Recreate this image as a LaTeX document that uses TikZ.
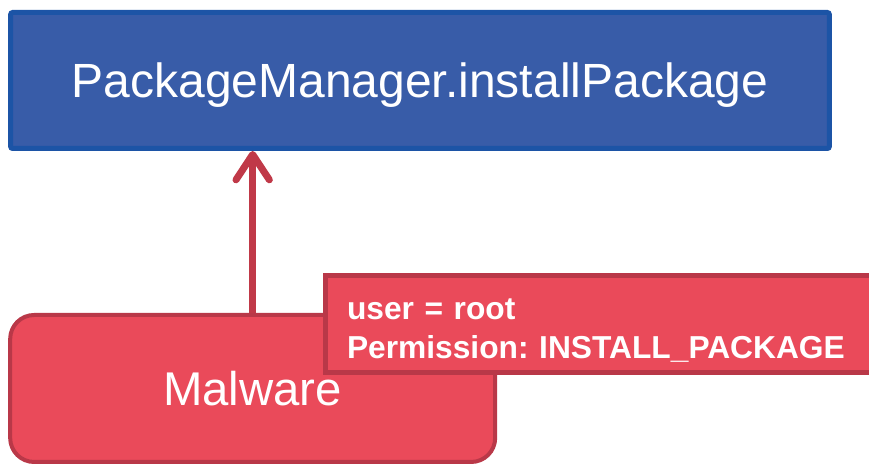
\documentclass[tikz,border=0pt]{standalone}
\usepackage{fontspec}
\setmainfont{Liberation Sans}
\usepackage{tikz}
\usetikzlibrary{arrows.meta,positioning}
\definecolor{apiFill}{RGB}{56,92,168}
\definecolor{apiLine}{RGB}{28,84,166}
\definecolor{malFill}{RGB}{234,74,90}
\definecolor{malLine}{RGB}{185,56,72}
\definecolor{callArr}{RGB}{192,57,72}
\tikzset{
  apibox/.style={draw=apiLine,fill=apiFill,line width=3.75pt,rounded corners=1.5pt,
    minimum width=614pt,minimum height=102pt,text=white,
    font=\fontsize{36}{42}\selectfont,text depth=0pt},
  malbox/.style={draw=malLine,fill=malFill,line width=3pt,rounded corners=18pt,
    minimum width=363.75pt,minimum height=110.25pt,text=white,
    font=\fontsize{35.5}{42}\selectfont,text depth=0pt},
  permbox/.style={draw=malLine,fill=malFill,line width=3.75pt,
    minimum height=72.75pt,inner xsep=16pt,text width=400pt,align=left,text=white,
    font=\bfseries\fontsize{23.8}{29.25}\selectfont\frenchspacing,text height=25pt},
  arr/.style={-{Straight Barb[round,length=19pt,width=25pt]},line width=5.25pt,callArr},
}

\begin{document}
\begin{tikzpicture}[x=0.75pt,y=0.75pt]
  \useasboundingbox (0,0) rectangle (869,466);
  \clip (0,0) rectangle (869,466);
  \node[apibox] (api) at (420,385.5) {PackageManager.installPackage};
  \node[malbox,below=121.5pt of api.south west,anchor=north west] (mal) {Malware};
  \draw[arr] (mal.north) -- (mal.north |- api.south);
  \node[permbox,anchor=north west] (perm)
    at ([xshift=236.25pt,yshift=30pt]mal.north west)
    {user = root\\Permission: INSTALL\_PACKAGE};
\end{tikzpicture}
\end{document}
